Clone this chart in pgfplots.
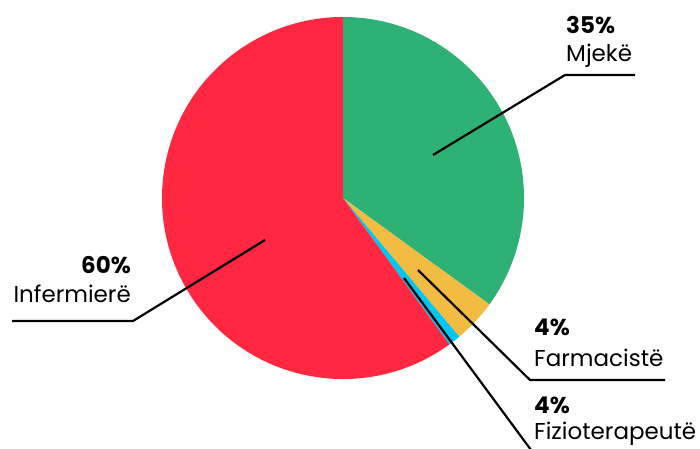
\documentclass[border=0pt]{standalone}
\usepackage{pgfplots}
\pgfplotsset{compat=1.18}
\usepackage{fontspec}
\setmainfont{Poppins}
\definecolor{cgreen}{HTML}{2DB174}
\definecolor{cred}{HTML}{FF2840}
\definecolor{cyellow}{HTML}{F2BC42}
\definecolor{cblue}{HTML}{00C6F2}
\begin{document}
\begin{tikzpicture}
\useasboundingbox (0,0) rectangle (700pt,448pt);
\begin{axis}[
  at={(0,0)}, anchor=south west,
  width=700pt, height=448pt, scale only axis,
  xmin=0, xmax=700, ymin=0, ymax=448,
  hide axis, clip=false,
]
% values (percent): Mjekë, Farmacistë, Fizioterapeutë, Infermierë
\def\vA{35}\def\vB{3.9}\def\vC{1.1}\def\vD{60}
% centre at pixel (343,198) -> axis (343,250); radius 181
\pgfmathsetmacro{\aA}{90-3.6*\vA}
\pgfmathsetmacro{\aB}{\aA-3.6*\vB}
\pgfmathsetmacro{\aC}{\aB-3.6*\vC}
\pgfmathsetmacro{\aD}{\aC-3.6*\vD}
\fill[cgreen] (axis cs:343,250) -- ++(90:181pt) arc[start angle=90,end angle=\aA,radius=181pt] -- cycle;
\fill[cyellow] (axis cs:343,250) -- ++(\aA:181pt) arc[start angle=\aA,end angle=\aB,radius=181pt] -- cycle;
\fill[cblue] (axis cs:343,250) -- ++(\aB:181pt) arc[start angle=\aB,end angle=\aC,radius=181pt] -- cycle;
\fill[cred] (axis cs:343,250) -- ++(\aC:181pt) arc[start angle=\aC,end angle=\aD,radius=181pt] -- cycle;
% leader lines
\addplot[black, line width=2.2pt, no marks] coordinates {(433,293) (565,373) (635,373)};
\addplot[black, line width=2.2pt, no marks] coordinates {(265,208) (133,127) (12,127)};
\addplot[black, line width=2.2pt, no marks] coordinates {(418,178) (530,68) (665,68)};
\addplot[black, line width=2.2pt, no marks] coordinates {(404,170) (534,-6)};
% labels
\node[anchor=west, font=\fontsize{23}{27}\selectfont\bfseries, inner sep=0] at (axis cs:566,423) {35\%};
\node[anchor=west, font=\fontsize{23}{27}\selectfont, inner sep=0] at (axis cs:566,392) {Mjekë};
\node[anchor=east, font=\fontsize{23}{27}\selectfont\bfseries, inner sep=0] at (axis cs:131,183) {60\%};
\node[anchor=east, font=\fontsize{23}{27}\selectfont, inner sep=0] at (axis cs:131,154) {Infermierë};
\node[anchor=west, font=\fontsize{23}{27}\selectfont\bfseries, inner sep=0] at (axis cs:534,121) {4\%};
\node[anchor=west, font=\fontsize{23}{27}\selectfont, inner sep=0] at (axis cs:534,90) {Farmacistë};
\node[anchor=west, font=\fontsize{23}{27}\selectfont\bfseries, inner sep=0] at (axis cs:534,43) {4\%};
\node[anchor=west, font=\fontsize{23}{27}\selectfont, inner sep=0] at (axis cs:534,14) {Fizioterapeutë};
\end{axis}
\end{tikzpicture}
\end{document}
